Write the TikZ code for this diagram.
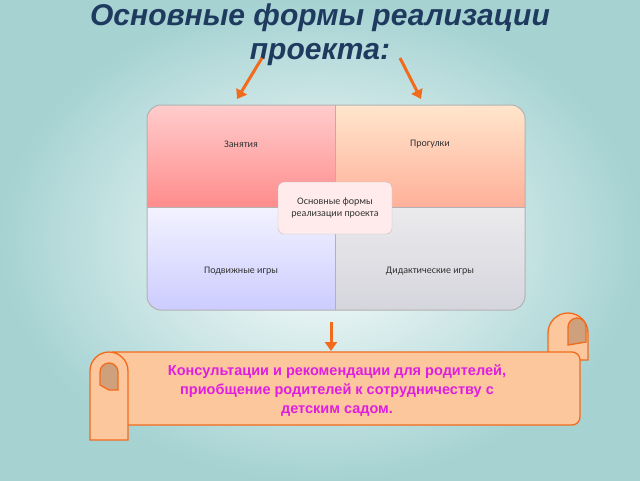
\documentclass[tikz,border=0pt]{standalone}
\usepackage{fontspec}
\setmainfont{Liberation Sans}
\newfontfamily\carlfont{Carlito}
\usetikzlibrary{arrows.meta}
\definecolor{orng}{HTML}{F26B1D}
\definecolor{scrollfill}{HTML}{FCC79C}
\definecolor{curl}{HTML}{CFA07C}
\definecolor{ttl}{HTML}{1F3A5F}
\tikzset{
 arr/.style={orng,line width=3pt,-{Triangle[length=9pt,width=12pt]}},
 lab/.style={font=\carlfont\fontsize{10}{12}\selectfont,text=black!80},
 scr/.style={draw=orng,line width=1.3pt,fill=scrollfill}
}
\begin{document}
\begin{tikzpicture}[x=1pt,y=-1pt]
\useasboundingbox (0,0) rectangle (640,480);
\shade[inner color=white,outer color=teal!35] (0,0) rectangle (640,480);
% title
\node (t1) at (320,18) {\fontsize{30}{34}\selectfont\bfseries\itshape\color{ttl}Основные формы реализации};
\node (t2) at (320,55) {\fontsize{30}{34}\selectfont\bfseries\itshape\color{ttl}проекта:};
\coordinate (a1s) at (262,58); \coordinate (a1e) at (237,99);
\coordinate (a2s) at (400,58); \coordinate (a2e) at (421,99);
\draw[arr] (a1s) -- (a1e);
\draw[arr] (a2s) -- (a2e);
% matrix
\begin{scope}
\clip[rounded corners=14pt] (147,105) rectangle (525,310);
\shade[top color=red!20,bottom color=red!45] (147,105) rectangle (335,207);
\shade[top color=orange!20,bottom color=orange!45!red!40] (335,105) rectangle (525,207);
\shade[top color=blue!5,bottom color=blue!20] (147,207) rectangle (335,310);
\shade[top color=blue!6!gray!15,bottom color=blue!10!gray!30] (335,207) rectangle (525,310);
\draw[gray!60] (335,105) -- (335,310) (147,207) -- (525,207);
\end{scope}
\draw[gray!60,line width=1pt,rounded corners=14pt] (147,105) rectangle (525,310);
\node[lab] (z) at (241,144) {Занятия};
\node[lab] (p) at (430,144) {Прогулки};
\node[lab] (pi) at (241,271) {Подвижные игры};
\node[lab] (di) at (430,271) {Дидактические игры};
\node[lab,draw=gray!50,fill=red!8,rounded corners=6pt,minimum width=114pt,minimum height=52pt,align=center] (c) at (335,208) {Основные формы\\реализации проекта};
% down arrow
\coordinate (ds) at (331,322); \coordinate (de) at (331,351);
\draw[arr] (ds) -- (de);
% scroll: right curl
\draw[scr] (548,360) -- (548,333) arc (180:360:20) -- (588,360) -- cycle;
\draw[scr,fill=curl] (568,345) -- (568,327) arc (180:360:9) -- (586,342) -- cycle;
% main body
\draw[scr,rounded corners=8pt] (110,352) -- (580,352) -- (580,425) -- (120,425) -- (120,352) -- cycle;
% left curl
\draw[scr] (90,440) -- (90,371) arc (180:360:19) -- (128,440) -- cycle;
\draw[scr,fill=curl] (109,390) -- (100,385) -- (100,372) arc (180:360:9) -- (118,390) -- cycle;
\node[font=\bfseries\fontsize{14.5}{19}\selectfont,text={rgb,255:red,224;green,30;blue,224},align=center] (st) at (337,391)
 {Консультации и рекомендации для родителей,\\приобщение родителей к сотрудничеству с\\детским садом.};
\end{tikzpicture}
\end{document}
